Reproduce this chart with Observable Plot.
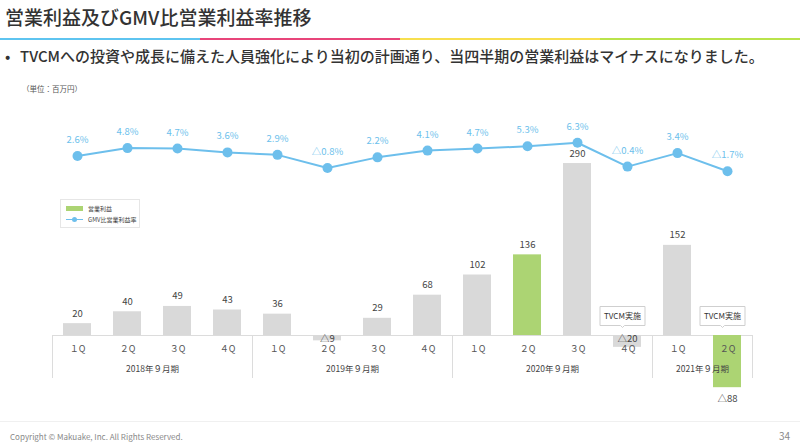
<!DOCTYPE html>
<html><head><meta charset="utf-8">
<script src="https://cdn.jsdelivr.net/npm/d3@7"></script>
<script src="https://cdn.jsdelivr.net/npm/@observablehq/plot@0.6"></script>
<style>
body{margin:0;width:800px;height:447px;position:relative;overflow:hidden;background:#fff;font-family:"Noto Sans CJK JP","Noto Sans",sans-serif;color:#333}
#title{position:absolute;left:5px;top:3px;font-size:19px;font-weight:500;line-height:28px;color:#333;white-space:nowrap}
#rainbow{position:absolute;left:0;top:38px;width:800px;height:2px;display:flex}
#rainbow div{flex:1}
#bullet{position:absolute;left:5px;top:45px;font-size:15px;font-weight:500;line-height:22px;white-space:nowrap;color:#333}
#bullet span{display:inline-block;width:15px}
#unit{position:absolute;left:22px;top:83px;font-size:7.5px;line-height:12px;color:#555}
#chart{position:absolute;left:0;top:75px}
#legend{position:absolute;left:60px;top:199px;width:78px;height:27px;border:1px solid #e6e6e6;font-size:6px;color:#444;background:#fff}
#legend .row{position:absolute;left:5px;display:flex;align-items:center;height:8px}
#legend .sw{width:17px;height:5px;background:#acd473;margin-right:5px}
#legend .ln{width:17px;height:1px;background:#6dbfec;margin-right:5px;position:relative}
#legend .ln i{position:absolute;left:6px;top:-2px;width:5px;height:5px;border-radius:50%;background:#6dbfec}
#foot{position:absolute;left:0;top:421px;width:800px;border-top:1px solid #f0f0f0}
#copy{position:absolute;left:10px;top:431px;font-size:8px;line-height:12px;color:#888}
#page{position:absolute;right:10px;top:429px;font-size:10px;line-height:14px;color:#888}
</style></head>
<body>
<div id="title">営業利益及びGMV比営業利益率推移</div>
<div id="rainbow"><div style="background:#5ec4f0"></div><div style="background:#e8457a"></div><div style="background:#f7df4f"></div><div style="background:#b9e34b"></div></div>
<div id="bullet"><span>•</span>TVCMへの投資や成長に備えた人員強化により当初の計画通り、当四半期の営業利益はマイナスになりました。</div>
<div id="unit">（単位：百万円）</div>
<div id="chart"></div>
<div id="legend">
  <div class="row" style="top:4px"><div class="sw"></div>営業利益</div>
  <div class="row" style="top:15px"><div class="ln"><i></i></div>GMV比営業利益率</div>
</div>
<div id="foot"></div>
<div id="copy">Copyright © Makuake, Inc. All Rights Reserved.</div>
<div id="page">34</div>
<script>
// ---- data ----
const fiscalYears = ["2018","2018","2018","2018","2019","2019","2019","2019","2020","2020","2020","2020","2021","2021"];
const quarterLabels = ["１Q","２Q","３Q","４Q","１Q","２Q","３Q","４Q","１Q","２Q","３Q","４Q","１Q","２Q"];
const operatingProfit = [20, 40, 49, 43, 36, -9, 29, 68, 102, 136, 290, -20, 152, -88];
const gmvMargin = [2.6, 4.8, 4.7, 3.6, 2.9, -0.8, 2.2, 4.1, 4.7, 5.3, 6.3, -0.4, 3.4, -1.7];
const yearLabels = {"2018":"2018年９月期","2019":"2019年９月期","2020":"2020年９月期","2021":"2021年９月期"};
const highlighted = [9, 13];
const tvcmQuarters = [11, 13];
const calloutText = "TVCM実施";

// ---- build ----
const rows = operatingProfit.map((v, i) => ({i, year: fiscalYears[i], q: quarterLabels[i], profit: v, margin: gmvMargin[i]}));
const groups = d3.groups(rows, d => d.year).map(([y, g]) => ({
  label: yearLabels[y], start: g[0].i - 0.5, end: g[g.length-1].i + 0.5, center: (g[0].i + g[g.length-1].i) / 2
}));
const boundaries = groups.map(g => g.start).concat([groups[groups.length-1].end]);
const fmt = v => v < 0 ? "△" + (-v) : String(v);
const fmtPct = v => (v < 0 ? "△" + (-v).toFixed(1) : v.toFixed(1)) + "%";
const marginToY = d3.scaleLinear(d3.extent(gmvMargin), [277, 325]);
const blue = "#6dbfec", green = "#acd473", gray = "#d9d9d9";
const half = 0.28;

const chart = Plot.plot({
  width: 800, height: 347,
  marginTop: 0, marginBottom: 44, marginLeft: 0, marginRight: 0,
  x: {type: "linear", domain: [boundaries[0], boundaries[boundaries.length-1]], range: [52, 752], axis: null},
  y: {domain: [-100, 300], range: [319.3, 82.1], axis: null},
  style: {fontFamily: '"Noto Sans CJK JP","Noto Sans",sans-serif', overflow: "visible", background: "transparent"},
  marks: [
    Plot.ruleY([0], {x1: boundaries[0], x2: boundaries[boundaries.length-1], stroke: "#dcdcdc"}),
    Plot.ruleX(boundaries, {x: d => d, stroke: "#dcdcdc", insetTop: 260}),
    Plot.rect(rows, {x1: d => d.i - half, x2: d => d.i + half, y1: 0, y2: "profit",
      fill: d => highlighted.includes(d.i) ? green : gray}),
    Plot.text(rows.filter(d => d.profit >= 0), {x: "i", y: "profit", dy: -10, text: d => fmt(d.profit), fontSize: 9.5, fill: "#444"}),
    Plot.text(rows.filter(d => d.profit < 0 && d.profit > -50), {x: "i", y: 0, dy: 3, text: d => fmt(d.profit), fontSize: 9.5, fill: "#444"}),
    Plot.text(rows.filter(d => d.profit <= -50), {x: "i", y: "profit", dy: 11, text: d => fmt(d.profit), fontSize: 9.5, fill: "#444"}),
    Plot.text(rows, {x: "i", y: 0, dy: 14, text: "q", fontSize: 9, fill: "#555"}),
    Plot.text(groups, {x: "center", y: 0, dy: 34, text: "label", fontSize: 8.5, fill: "#444"}),
    Plot.line(rows, {x: "i", y: d => marginToY(d.margin), stroke: blue, strokeWidth: 2}),
    Plot.dot(rows, {x: "i", y: d => marginToY(d.margin), r: 5, fill: blue}),
    Plot.text(rows, {x: "i", y: d => marginToY(d.margin), dy: -16, text: d => fmtPct(d.margin), fontSize: 9.5, fill: blue}),
    Plot.tip(rows.filter(d => tvcmQuarters.includes(d.i)), {x: "i", y: 0, dy: -8, dx: -5, title: () => calloutText,
      anchor: "bottom", pointerSize: 4, textPadding: 4, fontSize: 8, fill: "white", stroke: "#cfcfcf", textColor: "#555", pathFilter: "none"})
  ]
});
document.getElementById("chart").append(chart);
</script>
</body></html>
